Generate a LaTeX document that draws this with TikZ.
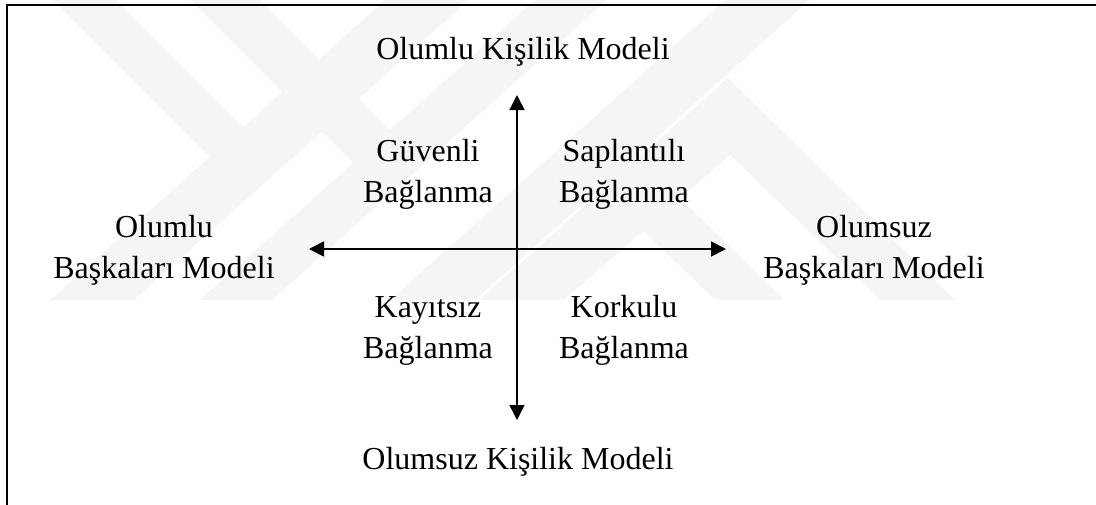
\documentclass[tikz,border=0pt]{standalone}
\usepackage{fontspec}
\setmainfont{Liberation Serif}
\usetikzlibrary{arrows.meta}
\begin{document}
\begin{tikzpicture}[x=0.5pt,y=-0.5pt,
  lbl/.style={font=\fontsize{16}{20.5}\selectfont, align=center, inner sep=0pt, anchor=base},
  tipx/.tip={Triangle[length=7.5pt,width=7.5pt]},
  vaxis/.style={line width=0.7pt, tipx-tipx},
  haxis/.style={line width=0.9pt, tipx-tipx},
  wm/.style={fill=black!4, draw=none},
  frame/.style={line width=1pt, draw=black}]
\useasboundingbox (0,0) rectangle (1096,504);
\clip (0,0) rectangle (1096,504);
% faint watermark
\fill[wm] (50,300) -- (134,300) -- (469,0) -- (385,0) -- cycle;
\fill[wm] (53,0) -- (116,0) -- (264,148) -- (231,178) -- cycle;
\fill[wm] (200,300) -- (272,300) -- (607,0) -- (535,0) -- cycle;
\fill[wm] (190,0) -- (260,0) -- (408,148) -- (372,182) -- cycle;
\fill[wm] (390,300) -- (475,300) -- (810,0) -- (725,0) -- cycle;
\fill[wm] (715,300) -- (785,300) -- (617,137) -- (580,170) -- cycle;
\fill[wm] (479,300) -- (728,78) -- (955,300) -- (880,300) -- (730,155) -- (564,300) -- cycle;
% frame
\draw[frame] (7,5) rectangle (1130,540);
% labels (anchor = baseline of last line)
\node[lbl] (top) at (523,59) {Olumlu Kişilik Modeli};
\node[lbl] (bottom) at (518,469) {Olumsuz Kişilik Modeli};
\node[lbl] (left) at (164,278) {Olumlu\\Başkaları Modeli};
\node[lbl] (right) at (874,278) {Olumsuz\\Başkaları Modeli};
\node[lbl] (secure) at (428,202) {Güvenli\\Bağlanma};
\node[lbl] (preocc) at (624,202) {Saplantılı\\Bağlanma};
\node[lbl] (dismiss) at (428,358) {Kayıtsız\\Bağlanma};
\node[lbl] (fearful) at (624,358) {Korkulu\\Bağlanma};
% axes
\coordinate (vtop) at (517,95);
\coordinate (vbot) at (517,420);
\coordinate (hleft) at (309,249);
\coordinate (hright) at (726,249);
\draw[vaxis] (vtop) -- (vbot);
\draw[haxis] (hleft) -- (hright);
\end{tikzpicture}
\end{document}
